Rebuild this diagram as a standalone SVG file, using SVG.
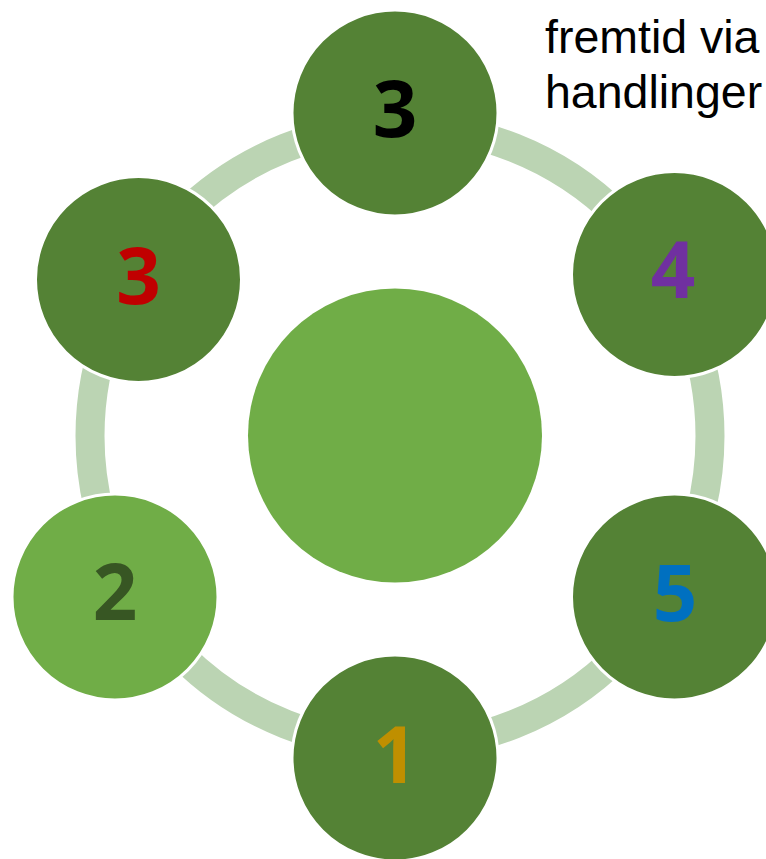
<svg xmlns="http://www.w3.org/2000/svg" width="766" height="859" viewBox="0 0 766 859">
<style>
.ring{fill:none;stroke:#BBD4B3;stroke-width:29}
.node{fill:#548235;stroke:#FFFFFF;stroke-width:3}
.light{fill:#70AD47}
.num{font-family:"Open Sans","DejaVu Sans",sans-serif;font-weight:bold;font-size:78px;text-anchor:middle}
.txt{font-family:"Liberation Sans",Arial,sans-serif;font-size:46.5px;fill:#000}
</style>
<rect width="766" height="859" fill="#FFFFFF"/>
<g id="connectors">
<circle class="ring" cx="400" cy="436" r="310"/>
</g>
<g id="center">
<circle cx="395" cy="435.5" r="147" fill="#70AD47"/>
</g>
<g id="node-top">
<circle class="node" cx="395" cy="113" r="103"/>
<text class="num" x="395" y="137" fill="#000000">3</text>
</g>
<g id="node-top-left">
<circle class="node" cx="138.5" cy="279.5" r="103"/>
<text class="num" x="138.5" y="304" fill="#C00000">3</text>
</g>
<g id="node-top-right">
<circle class="node" cx="674.5" cy="274.5" r="103"/>
<text class="num" x="673" y="298" fill="#7030A0">4</text>
</g>
<g id="node-bottom-right">
<circle class="node" cx="674.5" cy="597" r="103"/>
<text class="num" x="675" y="621" fill="#0070C0">5</text>
</g>
<g id="node-bottom">
<circle class="node" cx="395" cy="758" r="103"/>
<text class="num" x="395" y="783" fill="#BF8F00">1</text>
</g>
<g id="node-bottom-left">
<circle class="node light" cx="115" cy="597" r="103"/>
<text class="num" x="115" y="620" fill="#375623">2</text>
</g>
<g id="caption">
<text class="txt" x="545" y="53">fremtid via</text>
<text class="txt" x="545" y="108">handlinger</text>
</g>
</svg>
